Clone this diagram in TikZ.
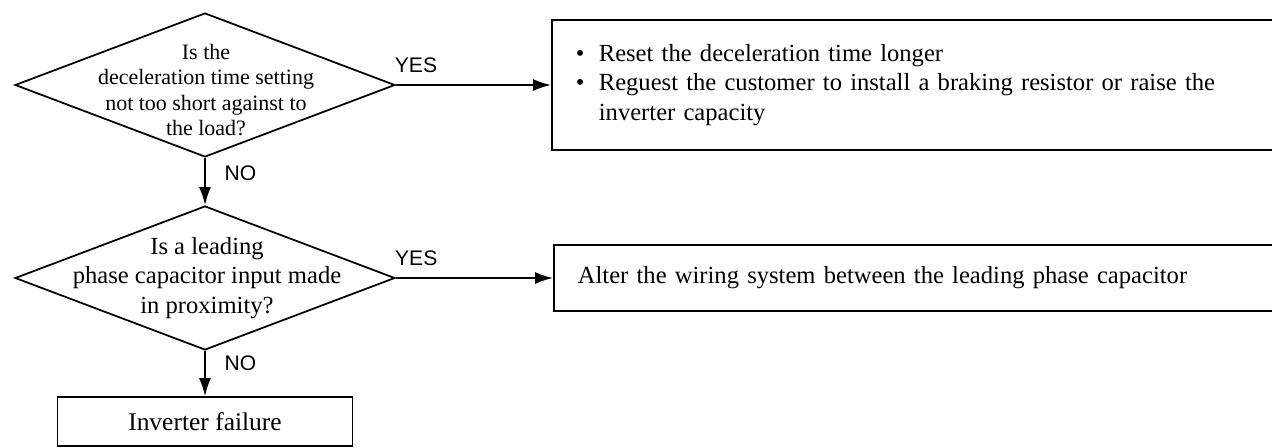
\documentclass[tikz,border=0pt]{standalone}
\usepackage{fontspec}
\setmainfont{Liberation Serif}
\newfontfamily\labelfont{Liberation Sans}
\usetikzlibrary{shapes.geometric,arrows.meta}
\newcommand{\bulletitem}{\makebox[0.46cm][l]{\textbullet}}

\begin{document}
\begin{tikzpicture}[x=0.02cm,y=-0.02cm,
        question/.style={draw,line width=1pt,diamond,inner sep=0pt,minimum width=7.6cm,minimum height=2.88cm},
        asktext/.style={align=center,inner sep=0pt},
        remedy/.style={draw,line width=1pt,rectangle,anchor=west,align=left,inner xsep=0.48cm,text width=13.82cm,font=\fontsize{14}{17}\selectfont},
        flow/.style={line width=1pt,-{Latex[length=0.36cm,width=0.24cm]}},
        answer/.style={font=\labelfont\fontsize{12}{12}\selectfont}]
        \useasboundingbox(0,0)rectangle(1272,447);
        % questions
        \node[question](decel)at(205,85){};
        \node[asktext,font=\fontsize{12.5}{14.5}\selectfont](decel-text)at(206,90){Is the\\deceleration time setting\\not too short against to\\the load?};
        \node[question](capac)at(205,278){};
        \node[asktext,font=\fontsize{14}{17}\selectfont](capac-text)at(207,278){Is a leading\\phase capacitor input made\\in proximity?};
        % remedies
        \node[remedy,minimum height=2.6cm](longer)at(551,85){\bulletitem Reset the deceleration time longer\\\bulletitem Reguest the customer to install a braking resistor or raise the\\\phantom{\bulletitem}inverter capacity};
        \node[remedy,minimum height=1.32cm](wiring)at(553,278){Alter the wiring system between the leading phase capacitor};
        \node[draw,line width=1pt,minimum width=5.9cm,minimum height=0.98cm,font=\fontsize{14.5}{16}\selectfont](failure)at(205,421.5){Inverter failure};
        % connectors
        \draw[flow](decel.east)--node[answer,pos=0.13,above=0.12cm]{YES}(longer.west);
        \draw[flow](capac.east)--node[answer,pos=0.13,above=0.12cm]{YES}(wiring.west);
        \draw[flow](decel.south)--node[answer,pos=0.32,right=0.26cm]{NO}(capac.north);
        \draw[flow](capac.south)--node[answer,pos=0.28,right=0.26cm]{NO}(failure.north);
    \end{tikzpicture}
\end{document}
